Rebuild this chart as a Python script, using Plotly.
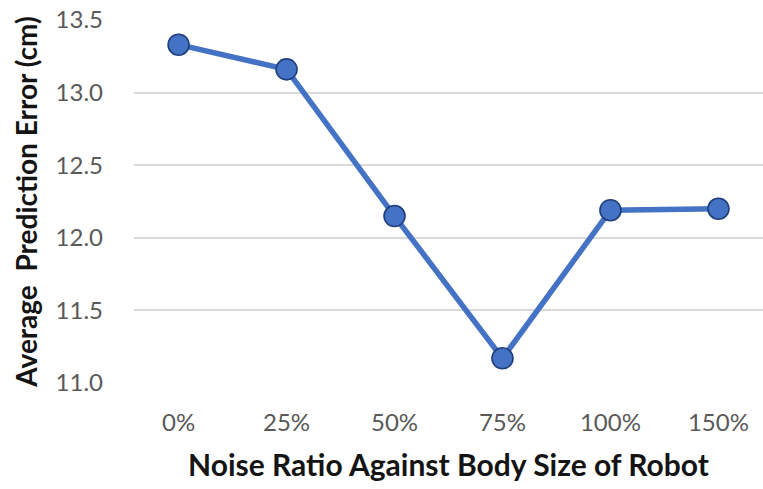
import plotly.graph_objects as go

# Noise ratio categories and the averaged prediction error for each
noise_ratio = ["0%", "25%", "50%", "75%", "100%", "150%"]
avg_error_cm = [13.33, 13.16, 12.15, 11.17, 12.19, 12.20]

y_ticks = [11.0, 11.5, 12.0, 12.5, 13.0, 13.5]

FONT = "Lato, 'Open Sans', Arial, sans-serif"

fig = go.Figure(
    go.Scatter(
        x=noise_ratio,
        y=avg_error_cm,
        mode="lines+markers",
        line=dict(color="#4472C4", width=5.5),
        marker=dict(size=21, color="#4472C4",
                    line=dict(color="#1F3F7A", width=1.6)),
        cliponaxis=False,
        showlegend=False,
    )
)

fig.update_layout(
    width=763,
    height=489,
    margin=dict(l=134, r=0, t=20, b=106),
    paper_bgcolor="white",
    plot_bgcolor="white",
    font=dict(family=FONT, color="#595959", size=24),
)

fig.update_xaxes(
    type="category",
    showgrid=False,
    showline=False,
    zeroline=False,
    ticks="",
    ticklabelstandoff=23,
    tickfont=dict(size=24, color="#595959"),
    title=dict(
        text="<b>Noise Ratio Against Body Size of Robot</b>",
        font=dict(size=30, color="#141414"),
        standoff=19,
    ),
)

fig.update_yaxes(
    range=[11.0, 13.5],
    tickvals=y_ticks,
    ticktext=[f"{v:.1f}" for v in y_ticks],
    showgrid=True,
    gridcolor="#D9D9D9",
    gridwidth=1.5,
    showline=False,
    zeroline=False,
    ticks="",
    ticklabelstandoff=30,
    tickfont=dict(size=24, color="#595959"),
    title=dict(
        text="<b>Average  Prediction Error (cm)</b>",
        font=dict(size=28, color="#141414"),
        standoff=9,
    ),
)

fig.write_html("out.html")
